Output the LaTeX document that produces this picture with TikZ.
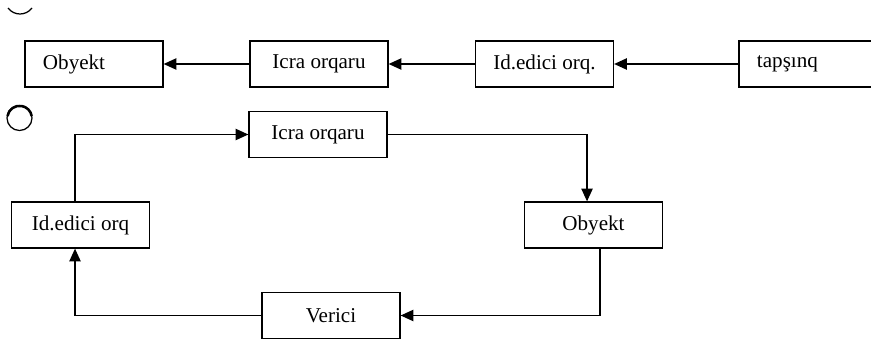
\documentclass[tikz,border=0pt]{standalone}
\usepackage{fontspec}
\setmainfont{Liberation Serif}
\usetikzlibrary{positioning,arrows.meta}
\tikzset{
  blok/.style={draw,line width=0.9pt,minimum width=3.45cm,minimum height=1.15cm,inner sep=0pt,font=\fontsize{15}{18}\selectfont},
  lblok/.style={blok,text width=2.55cm,align=left},
  axin/.style={line width=0.9pt,-{Triangle[length=9pt,width=8pt]}},
  xett/.style={line width=0.9pt}
}
\begin{document}
\begin{tikzpicture}[x=0.025cm,y=-0.025cm]
      \useasboundingbox (0,0) rectangle (871,342);
      \clip (0,0) rectangle (871,342);
      % yuxari sira
      \node[lblok] (ob1) at (94,64) {Obyekt};
      \node[blok] (icra1) at (319,64) {Icra orqaru};
      \node[blok] (id1) at (544.5,64) {Id.edici orq.};
      \node[lblok] (tap) at (808,64) {tap\c{s}{\i}nq};
      \draw[axin] (icra1) -- (ob1); \draw[axin] (id1) -- (icra1); \draw[axin] (tap) -- (id1);
      % asagi dovr
      \node[blok] (icra2) at (318,134.5) {Icra orqaru};
      \node[blok] (ob2) at (593.5,225) {Obyekt};
      \node[blok] (id2) at (80.5,225) {Id.edici orq};
      \node[blok] (ver) at (331,315.5) {Verici};
      \draw[axin] ([xshift=-3.9pt]id2.north) |- (icra2.west);
      \draw[axin] (icra2.east) -| ([xshift=-4.6pt]ob2.north);
      \draw[axin] ([xshift=4.6pt]ob2.south) |- (ver.east);
      \draw[axin] (ver.west) -| ([xshift=-3.9pt]id2.south);
      % isaretler
      \draw[xett] (8,8) .. controls (14,16) and (26,16) .. (32,8);
      \draw[xett] (19.5,118) circle (12.5);
      \draw[line width=1.8pt] (7.5,116) arc[start angle=190,end angle=350,radius=12.3];
    \end{tikzpicture}
\end{document}
